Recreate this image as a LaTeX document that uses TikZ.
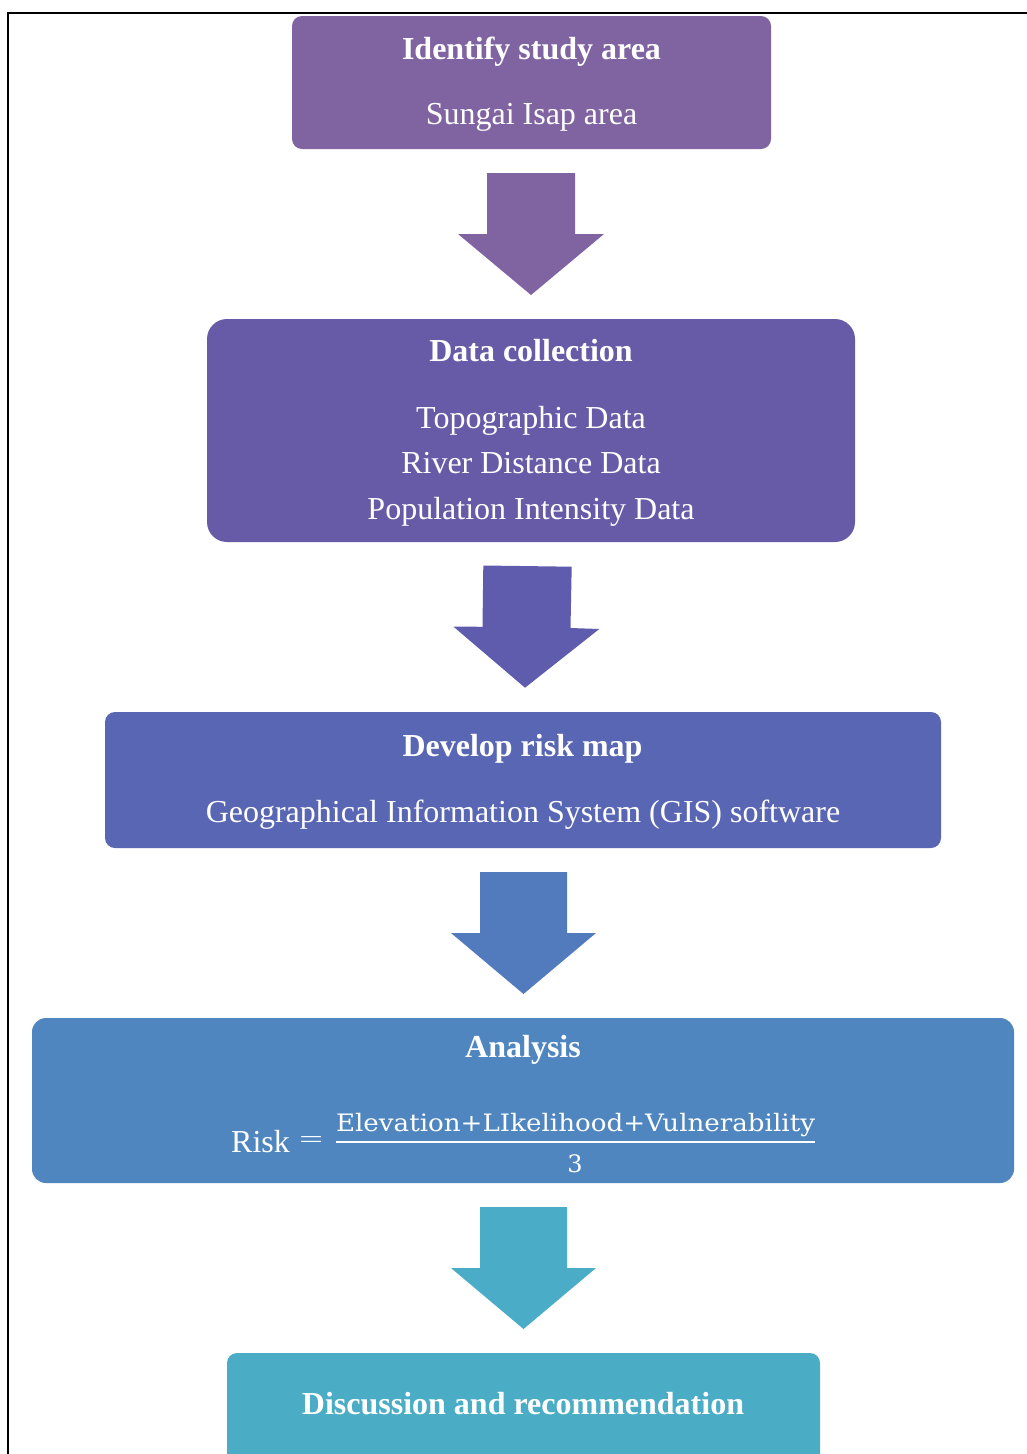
\documentclass[tikz,border=0pt]{standalone}
\usepackage{fontspec}
\setmainfont{Liberation Serif}
\newfontfamily\formfont{DejaVu Serif}
\usepackage{graphicx}
\definecolor{cA}{HTML}{8064A2}
\definecolor{cB}{HTML}{675BA8}
\definecolor{cBa}{HTML}{5F5CAE}
\definecolor{cC}{HTML}{5966B3}
\definecolor{cCa}{HTML}{527BBD}
\definecolor{cD}{HTML}{5086BF}
\definecolor{cDa}{HTML}{4AACC6}
\definecolor{cE}{HTML}{4BACC6}
\tikzset{
  box/.style={rectangle, inner sep=0pt, outer sep=0pt, draw=none},
  tx/.style={text=white, inner sep=0pt, anchor=base, font=\fontsize{32}{38}\selectfont},
  ttl/.style={tx, font=\fontsize{32}{38}\selectfont\bfseries},
  frm/.style={text=white, inner sep=0pt, anchor=base, font=\formfont\fontsize{24}{28}\selectfont},
}
\begin{document}
\begin{tikzpicture}[x=1pt,y=-1pt]
\useasboundingbox (0,0) rectangle (1027,1454);
\clip (0,0) rectangle (1027,1454);
\fill[white] (0,0) rectangle (1027,1454);
% frame
\draw[line width=2.4pt] (7.8,1460) -- (7.8,13) -- (1030,13);
% box 1
\node[box, fill=cA, rounded corners=10pt, minimum width=479pt, minimum height=133pt] (b1) at (531.5,82.5) {};
\node[ttl] (t1) at (531.5,59) {Identify study area};
\node[tx] (s1) at (531.5,124) {Sungai Isap area};
% arrow 1
\fill[cA] (487,173) -- (575,173) -- (575,234) -- (604,234) -- (531,295) -- (458,234) -- (487,234) -- cycle;
% box 2
\node[box, fill=cB, rounded corners=20pt, minimum width=648pt, minimum height=223pt] (b2) at (531,430.5) {};
\node[ttl] (t2) at (531,361.5) {Data collection};
\node[tx] (s2a) at (531,428) {Topographic Data};
\node[tx] (s2b) at (531,473.5) {River Distance Data};
\node[tx] (s2c) at (531,519) {Population Intensity Data};
% arrow 2
\fill[cBa] (483.3,565.5) -- (571.7,566.7) -- (570.5,628) -- (599.3,629) -- (525,687.7) -- (453.3,626.5) -- (482.5,626.8) -- cycle;
% box 3
\node[box, fill=cC, rounded corners=10pt, minimum width=836pt, minimum height=136pt] (b3) at (523,780) {};
\node[ttl] (t3) at (522.5,756.5) {Develop risk map};
\node[tx] (s3) at (523,822) {Geographical Information System (GIS) software};
% arrow 3
\fill[cCa] (480,872) -- (567,872) -- (567,933) -- (596,933) -- (523.5,994) -- (451,933) -- (480,933) -- cycle;
% box 4
\node[box, fill=cD, rounded corners=14pt, minimum width=982pt, minimum height=165pt] (b4) at (523,1100.5) {};
\node[ttl] (t4) at (523,1057.5) {Analysis};
\node[tx, anchor=base west] (risk) at (231,1152.5) {Risk};
\node[text=white, inner sep=0pt, anchor=center] (eq) at (311,1142) {\resizebox{24pt}{11pt}{\fontsize{32}{38}\selectfont =}};
\node[frm] (num) at (575.5,1131) {\resizebox{479pt}{\height}{Elevation+LIkelihood+Vulnerability}};
\draw[white, line width=2.4pt] (336,1142) -- (815,1142);
\node[frm] (den) at (575,1172) {3};
% arrow 4
\fill[cDa] (480,1207) -- (567,1207) -- (567,1268) -- (596,1268) -- (523.5,1329) -- (451,1268) -- (480,1268) -- cycle;
% box 5
\node[box, fill=cE, rounded corners=10pt, minimum width=593pt, minimum height=140pt] (b5) at (523.5,1423) {};
\node[ttl] (t5) at (523,1414.5) {Discussion and recommendation};
\end{tikzpicture}
\end{document}
